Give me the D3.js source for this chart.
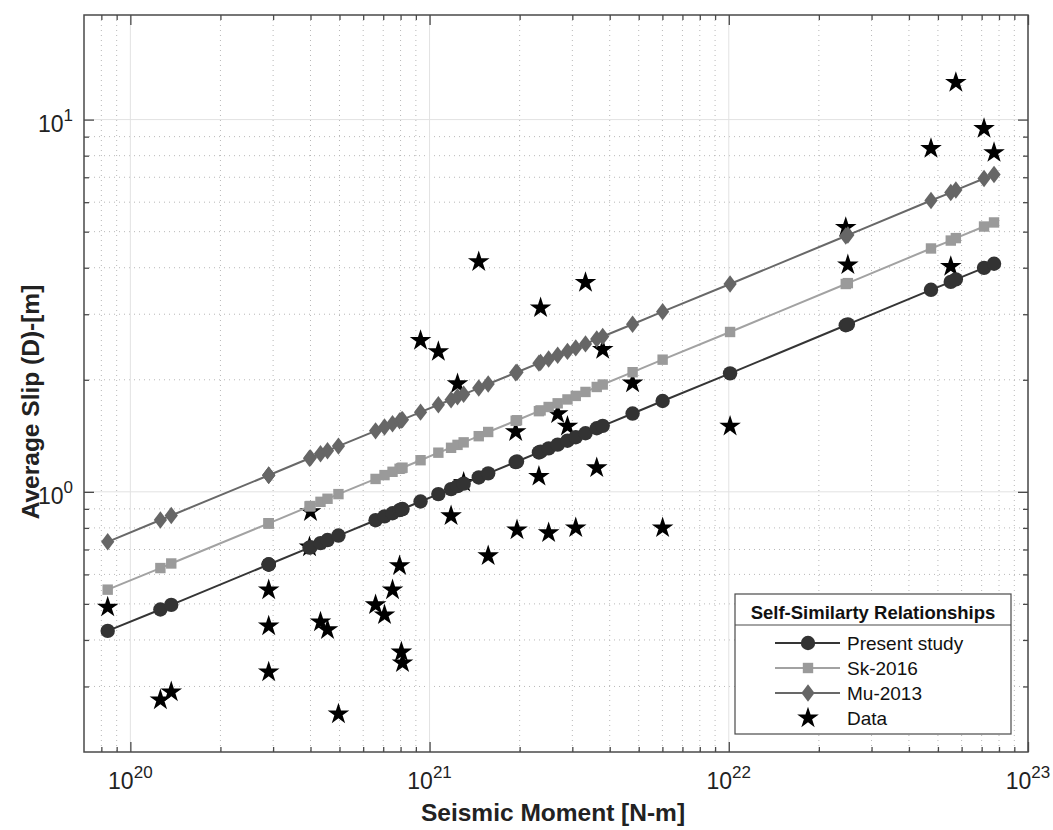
<!DOCTYPE html>
<html><head><meta charset="utf-8">
<script src="https://cdnjs.cloudflare.com/ajax/libs/d3/7.8.5/d3.min.js"></script>
<style>body{margin:0;background:#fff;} text{font-family:"Liberation Sans",Arial,Helvetica,sans-serif;}</style>
</head><body><svg id="chart" width="1053" height="830"></svg>
<script>
// ---- data ----
const moments = [8.4e19,1.26e20,1.37e20,2.9e20,2.9e20,2.9e20,3.97e20,4.0e20,4.32e20,4.56e20,4.96e20,
  6.6e20,7.07e20,7.52e20,7.94e20,8.05e20,8.12e20,9.33e20,1.07e21,1.18e21,1.24e21,1.30e21,1.46e21,1.57e21,
  1.94e21,1.96e21,2.32e21,2.35e21,2.50e21,2.68e21,2.89e21,3.08e21,3.32e21,3.62e21,3.79e21,4.77e21,6.01e21,
  1.01e22,2.46e22,2.5e22,4.74e22,5.52e22,5.74e22,7.13e22,7.70e22];
const dataSlip = [0.49,0.276,0.29,0.545,0.436,0.328,0.711,0.884,0.447,0.426,0.253,
  0.497,0.467,0.545,0.633,0.371,0.347,2.55,2.38,0.862,1.95,1.06,4.15,0.673,
  1.45,0.79,1.10,3.12,0.776,1.62,1.50,0.80,3.65,1.16,2.41,1.96,0.80,
  1.50,5.13,4.07,8.36,4.03,12.58,9.46,8.15];
const presentStudy = [0.423,0.483,0.497,0.638,0.638,0.638,0.708,0.710,0.728,0.742,0.763,
  0.839,0.859,0.876,0.893,0.897,0.899,0.942,0.986,1.017,1.036,1.052,1.093,1.121,
  1.202,1.206,1.276,1.282,1.308,1.339,1.372,1.402,1.437,1.482,1.504,1.623,1.754,
  2.081,2.802,2.817,3.489,3.664,3.721,3.997,4.100];
const sk2016 = [0.546,0.624,0.642,0.823,0.823,0.823,0.914,0.916,0.940,0.958,0.986,
  1.083,1.109,1.132,1.153,1.158,1.161,1.216,1.274,1.313,1.337,1.358,1.411,1.448,
  1.552,1.557,1.647,1.655,1.690,1.729,1.771,1.810,1.855,1.913,1.942,2.096,2.265,
  2.688,3.617,3.637,4.506,4.732,4.805,5.161,5.293];
const mu2013 = [0.734,0.840,0.864,1.108,1.108,1.108,1.231,1.234,1.266,1.289,1.327,
  1.458,1.493,1.523,1.551,1.559,1.563,1.637,1.714,1.767,1.800,1.828,1.900,1.949,
  2.089,2.096,2.217,2.228,2.274,2.327,2.384,2.436,2.497,2.574,2.614,2.820,3.048,
  3.617,4.868,4.896,6.064,6.368,6.467,6.946,7.124];
const xTickExps = [20,21,22,23];
const yTickExps = [0,1];
const xDomain = [7.0e19, 1e23];
const yDomain = [0.2, 19.1];
const legendTitle = "Self-Similarty Relationships";
const seriesNames = ["Present study","Sk-2016","Mu-2013","Data"];
const xLabel = "Seismic Moment [N-m]";
const yLabel = "Average Slip (D)-[m]";

// ---- layout ----
const L = 84, T = 15, R = 1028, B = 752;
const svg = d3.select("#chart");
const x = d3.scaleLog().domain(xDomain).range([L, R]);
const y = d3.scaleLog().domain(yDomain).range([B, T]);

const majorX = xTickExps.map(e => Math.pow(10, e));
const majorY = yTickExps.map(e => Math.pow(10, e));
const minorX = [], minorY = [];
for (let e = 19; e <= 22; e++) for (let m = 2; m <= 9; m++) { const v = m * Math.pow(10, e); if (v > xDomain[0] && v < xDomain[1]) minorX.push(v); }
for (let e = -1; e <= 1; e++) for (let m = 2; m <= 9; m++) { const v = m * Math.pow(10, e); if (v > yDomain[0] && v < yDomain[1]) minorY.push(v); }

// grid
const grid = svg.append("g");
grid.selectAll(".mgx").data(minorX).join("line").attr("x1", d => x(d)).attr("x2", d => x(d)).attr("y1", T).attr("y2", B)
  .attr("stroke", "#b8b8b8").attr("stroke-width", 1).attr("stroke-dasharray", "1,4");
grid.selectAll(".mgy").data(minorY).join("line").attr("y1", d => y(d)).attr("y2", d => y(d)).attr("x1", L).attr("x2", R)
  .attr("stroke", "#b8b8b8").attr("stroke-width", 1).attr("stroke-dasharray", "1,4");
grid.selectAll(".Mgx").data(majorX).join("line").attr("x1", d => x(d)).attr("x2", d => x(d)).attr("y1", T).attr("y2", B)
  .attr("stroke", "#e2e2e2").attr("stroke-width", 1);
grid.selectAll(".Mgy").data(majorY).join("line").attr("y1", d => y(d)).attr("y2", d => y(d)).attr("x1", L).attr("x2", R)
  .attr("stroke", "#e2e2e2").attr("stroke-width", 1);

// data stars (drawn beneath the fitted relations)
const pts = moments.map((m, i) => ({m, d: dataSlip[i], p: presentStudy[i], s: sk2016[i], u: mu2013[i]}));
const star = d3.symbol().type(d3.symbolStar).size(145);
svg.append("g").selectAll("path").data(pts).join("path")
  .attr("d", star).attr("transform", d => `translate(${x(d.m)},${y(d.d)})`).attr("fill", "#000");

// relations
const series = [
  {key: "u", color: "#686868", fill: "#666", shape: "diamond"},
  {key: "s", color: "#a2a2a2", fill: "#9a9a9a", shape: "square"},
  {key: "p", color: "#353535", fill: "#333", shape: "circle"}
];
function marker(g, shape, fill) {
  if (shape === "circle") g.append("circle").attr("r", 7.2).attr("fill", fill);
  else if (shape === "square") g.append("rect").attr("x", -5.2).attr("y", -5.2).attr("width", 10.4).attr("height", 10.4).attr("fill", fill);
  else g.append("path").attr("d", "M0,-8.7L6.6,0L0,8.7L-6.6,0Z").attr("fill", fill);
}
series.forEach(sr => {
  const line = d3.line().x(d => x(d.m)).y(d => y(d[sr.key]));
  const g = svg.append("g");
  g.append("path").datum(pts).attr("d", line).attr("fill", "none").attr("stroke", sr.color).attr("stroke-width", 2);
  g.selectAll("g").data(pts).join("g").attr("transform", d => `translate(${x(d.m)},${y(d[sr.key])})`)
    .each(function() { marker(d3.select(this), sr.shape, sr.fill); });
});

// axes (ticks inward on all sides)
const axCol = "#4a4a4a";
function styleAxis(g) { g.select(".domain").remove(); g.selectAll("line").attr("stroke", axCol).attr("stroke-width", 1.3); }
svg.append("g").attr("transform", `translate(0,${B})`).call(d3.axisBottom(x).tickValues(majorX).tickSize(-10).tickFormat("")).call(styleAxis);
svg.append("g").attr("transform", `translate(0,${B})`).call(d3.axisBottom(x).tickValues(minorX).tickSize(-5).tickFormat("")).call(styleAxis);
svg.append("g").attr("transform", `translate(0,${T})`).call(d3.axisTop(x).tickValues(majorX).tickSize(-10).tickFormat("")).call(styleAxis);
svg.append("g").attr("transform", `translate(0,${T})`).call(d3.axisTop(x).tickValues(minorX).tickSize(-5).tickFormat("")).call(styleAxis);
svg.append("g").attr("transform", `translate(${L},0)`).call(d3.axisLeft(y).tickValues(majorY).tickSize(-10).tickFormat("")).call(styleAxis);
svg.append("g").attr("transform", `translate(${L},0)`).call(d3.axisLeft(y).tickValues(minorY).tickSize(-5).tickFormat("")).call(styleAxis);
svg.append("g").attr("transform", `translate(${R},0)`).call(d3.axisRight(y).tickValues(majorY).tickSize(-10).tickFormat("")).call(styleAxis);
svg.append("g").attr("transform", `translate(${R},0)`).call(d3.axisRight(y).tickValues(minorY).tickSize(-5).tickFormat("")).call(styleAxis);
svg.append("rect").attr("x", L).attr("y", T).attr("width", R - L).attr("height", B - T)
  .attr("fill", "none").attr("stroke", axCol).attr("stroke-width", 1.5);

// tick labels with superscripts
xTickExps.forEach(e => {
  const t = svg.append("text").attr("x", x(Math.pow(10, e))).attr("y", 789).attr("text-anchor", "middle").attr("fill", "#222");
  t.append("tspan").attr("font-size", 23).text("10");
  t.append("tspan").attr("font-size", 17).attr("dy", -11).text(e);
});
yTickExps.forEach(e => {
  const t = svg.append("text").attr("x", 73).attr("y", y(Math.pow(10, e)) + 12).attr("text-anchor", "end").attr("fill", "#222");
  t.append("tspan").attr("font-size", 23).text("10");
  t.append("tspan").attr("font-size", 17).attr("dy", -11).text(e);
});

// axis labels
svg.append("text").attr("x", 553).attr("y", 821).attr("text-anchor", "middle")
  .attr("font-size", 24.5).attr("font-weight", "bold").attr("fill", "#222").text(xLabel);
svg.append("text").attr("transform", `translate(39,402) rotate(-90)`).attr("text-anchor", "middle")
  .attr("font-size", 24.5).attr("font-weight", "bold").attr("fill", "#222").text(yLabel);

// legend
const lg = svg.append("g");
const lx0 = 735, lx1 = 1011, ly0 = 594, ly1 = 734, lsep = 625;
lg.append("rect").attr("x", lx0).attr("y", ly0).attr("width", lx1 - lx0).attr("height", ly1 - ly0)
  .attr("fill", "#fff").attr("stroke", "#4a4a4a").attr("stroke-width", 1.2);
lg.append("line").attr("x1", lx0).attr("x2", lx1).attr("y1", lsep).attr("y2", lsep).attr("stroke", "#4a4a4a").attr("stroke-width", 1.2);
lg.append("text").attr("x", (lx0 + lx1) / 2).attr("y", 619).attr("text-anchor", "middle")
  .attr("font-size", 18.5).attr("font-weight", "bold").attr("fill", "#111").text(legendTitle);
const legRows = [
  {name: seriesNames[0], y: 643, sr: series[2]},
  {name: seriesNames[1], y: 668, sr: series[1]},
  {name: seriesNames[2], y: 693, sr: series[0]},
  {name: seriesNames[3], y: 718, sr: null}
];
legRows.forEach(r => {
  if (r.sr) {
    lg.append("line").attr("x1", 775).attr("x2", 840).attr("y1", r.y).attr("y2", r.y).attr("stroke", r.sr.color).attr("stroke-width", 2);
    const g = lg.append("g").attr("transform", `translate(808,${r.y})`);
    marker(g, r.sr.shape, r.sr.fill);
  } else {
    lg.append("path").attr("d", star).attr("transform", `translate(808,${r.y})`).attr("fill", "#000");
  }
  lg.append("text").attr("x", 847).attr("y", r.y + 7).attr("font-size", 19).attr("fill", "#111").text(r.name);
});
</script></body></html>
